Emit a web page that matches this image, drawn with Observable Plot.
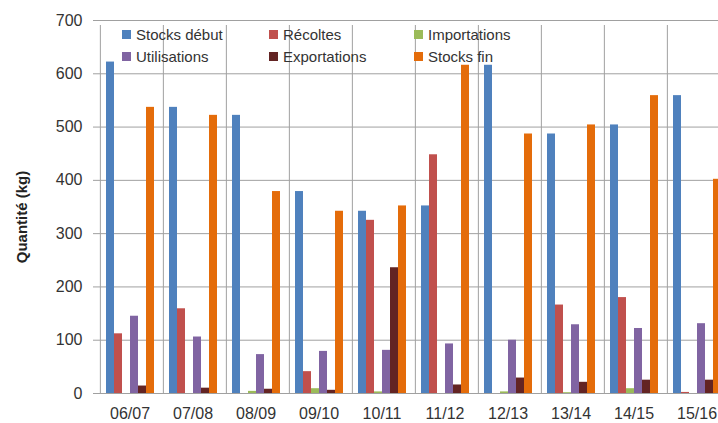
<!DOCTYPE html>
<html><head><meta charset="utf-8">
<script src="https://cdn.jsdelivr.net/npm/d3@7"></script>
<script src="https://cdn.jsdelivr.net/npm/@observablehq/plot@0.6"></script>
<style>
body{margin:0;background:#fff;font-family:"Liberation Sans",Arial,sans-serif;}
#wrap{position:relative;width:718px;height:423px;overflow:hidden;}
#legend{position:absolute;left:122px;top:23px;display:grid;grid-template-columns:147px 145px 150px;}
.item{display:flex;align-items:center;height:22px;font-size:15px;color:#333;white-space:nowrap;}
.sw{width:9px;height:9px;margin-right:5px;flex:none;}
#ytitle{position:absolute;left:21px;top:217px;transform:translate(-50%,-50%) rotate(-90deg);font-weight:bold;font-size:15px;color:#222;white-space:nowrap;}
</style>
</head><body>
<div id="wrap"><div id="chart"></div><div id="legend"></div><div id="ytitle">Quantité (kg)</div></div>
<script>
const categories = ["06/07","07/08","08/09","09/10","10/11","11/12","12/13","13/14","14/15","15/16"];
const seriesNames = ["Stocks début","Récoltes","Importations","Utilisations","Exportations","Stocks fin"];
const colors = ["#4F81BD","#C0504D","#9BBB59","#8064A2","#632423","#E46C0A"];
const stocksDebut  = [622, 537, 522, 379, 342, 352, 616, 487, 504, 559];
const recoltes     = [112, 159,   0,  41, 325, 448,   0, 166, 180,   2];
const importations = [  0,   0,   4,   9,   3,   0,   3, 1.5,   9,   0];
const utilisations = [145, 106,  73,  79,  81,  93, 100, 129, 122, 131];
const exportations = [ 14,  10,   8,   6, 236,  16,  29,  21,  25,  25];
const stocksFin    = [537, 522, 379, 342, 352, 616, 487, 504, 559, 402];
const yTicks = [0,100,200,300,400,500,600,700];

const seriesValues = [stocksDebut, recoltes, importations, utilisations, exportations, stocksFin];
const data = [];
categories.forEach((c, i) => seriesValues.forEach((vals, s) => data.push({cat: c, series: seriesNames[s], value: vals[i]})));

const width = 718, marginLeft = 97, marginRight = -11;
const padOuter = 0.68;
const facetW = (width - marginLeft - marginRight) / categories.length;
const step = facetW / (seriesNames.length + 2 * padOuter);
const grid = "#a0a0a0";

const chart = Plot.plot({
  width, height: 423,
  marginTop: 20, marginBottom: 30, marginLeft, marginRight,
  style: {fontFamily: "Liberation Sans, Arial, sans-serif", fontSize: "16px", color: "#333", background: "#fff"},
  fx: {domain: categories, padding: 0},
  x: {domain: seriesNames, paddingInner: 0, paddingOuter: padOuter, axis: null},
  y: {domain: [0, 700]},
  color: {domain: seriesNames, range: colors},
  marks: [
    Plot.gridY(yTicks, {stroke: grid, strokeOpacity: 1}),
    Plot.ruleX(categories, {fx: d => d, x: () => seriesNames[0], y1: () => 0, y2: () => 700, dx: -(padOuter + 0.5) * step, insetBottom: -5, stroke: grid, strokeOpacity: 1}),
    Plot.barY(data, {fx: "cat", x: "series", y: "value", fill: "series"}),
    Plot.axisY(yTicks, {tickSize: 5, tickPadding: 11, stroke: grid, label: null, fontSize: 16, fill: "#333"}),
    Plot.axisFx({anchor: "bottom", tickSize: 0, tickPadding: 14, label: null, fontSize: 16, fill: "#333"})
  ]
});
document.getElementById("chart").appendChild(chart);

const legend = document.getElementById("legend");
seriesNames.forEach((name, i) => {
  const d = document.createElement("div");
  d.className = "item";
  d.innerHTML = `<span class="sw" style="background:${colors[i]}"></span><span>${name}</span>`;
  legend.appendChild(d);
});
</script>
</body></html>
